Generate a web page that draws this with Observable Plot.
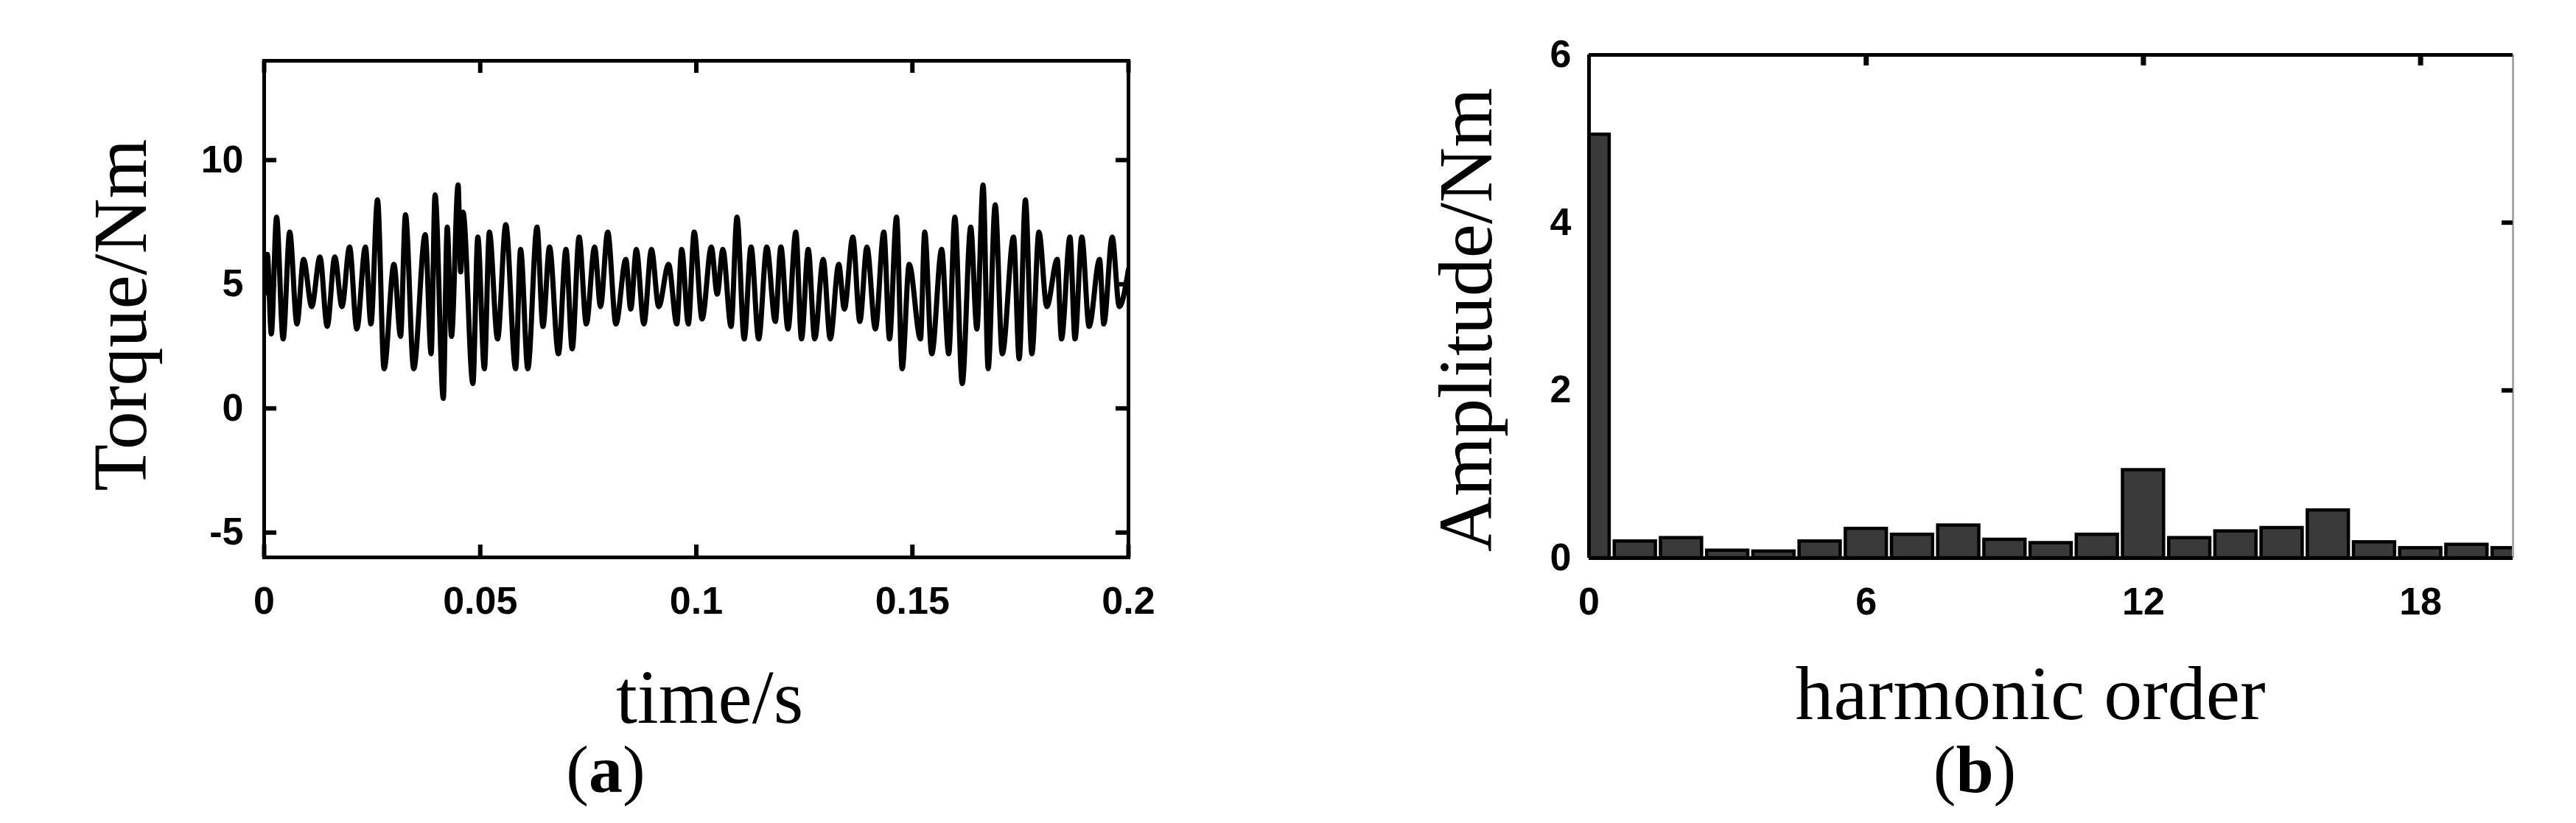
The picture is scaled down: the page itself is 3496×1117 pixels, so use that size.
<!DOCTYPE html>
<html><head><meta charset="utf-8">
<script src="https://cdn.jsdelivr.net/npm/d3@7"></script>
<script src="https://cdn.jsdelivr.net/npm/@observablehq/plot@0.6"></script>
<style>
html,body{margin:0;padding:0;background:#fff;}
#root{position:relative;width:3496px;height:1117px;overflow:hidden;background:#fff;}
.panel{position:absolute;top:0;}
.cap{position:absolute;font-family:"Liberation Serif","Times New Roman",serif;font-size:92px;line-height:1;transform:translateX(-50%);white-space:nowrap;color:#000;}
</style></head><body><div id="root"></div>
<script>
// ---- (a) torque waveform: extremum points ----
const timeS = [
0.0000,0.00074,0.00165,0.00287,0.00439,0.00591,0.00759,0.00911,0.01101,0.01291,
0.01459,0.01634,0.01801,0.01976,0.02144,0.02342,0.02471,0.02623,0.02775,0.03004,
0.03156,0.03270,0.03460,0.03727,0.03864,0.03955,0.04145,0.04236,0.04335,0.04488,
0.04548,0.04602,0.04830,0.04944,0.05096,0.05211,0.05401,0.05591,0.05819,0.05934,
0.06101,0.06314,0.06451,0.06603,0.06809,0.06984,0.07128,0.07288,0.07455,0.07646,
0.07783,0.07950,0.08140,0.08369,0.08483,0.08612,0.08787,0.08962,0.09130,0.09358,
0.09548,0.09662,0.09815,0.09951,0.10134,0.10347,0.10484,0.10614,0.10804,0.10941,
0.11109,0.11266,0.11443,0.11631,0.11827,0.11957,0.12121,0.12303,0.12434,0.12590,
0.12740,0.12936,0.13099,0.13295,0.13426,0.13621,0.13784,0.13948,0.14143,0.14339,
0.14470,0.14633,0.14763,0.14926,0.15187,0.15285,0.15448,0.15677,0.15840,0.15983,
0.16153,0.16349,0.16492,0.16636,0.16753,0.16916,0.17080,0.17341,0.17471,0.17615,
0.17765,0.17928,0.18110,0.18352,0.18450,0.18646,0.18763,0.18920,0.19089,0.19331,
0.19429,0.19624,0.19787,0.2000
];
const torqueNm = [
4.6,6.2,3.0,7.7,2.8,7.1,3.4,6.0,4.1,6.1,
3.3,6.1,4.1,6.5,3.2,6.5,3.4,8.4,1.6,5.8,
2.9,7.8,1.6,7.0,2.2,8.6,0.4,7.3,2.9,9.0,
5.5,7.9,1.0,6.9,1.6,7.1,2.8,7.4,1.6,6.4,
1.6,7.3,3.3,6.5,2.2,6.4,2.4,6.9,3.4,6.5,
4.1,7.1,3.4,6.0,4.0,6.4,3.4,6.4,4.1,5.8,
3.4,6.4,3.4,7.1,3.6,6.5,4.6,6.4,3.3,7.7,
2.8,6.5,2.8,6.5,3.5,6.5,3.2,7.1,2.8,6.4,
2.8,6.0,2.8,5.8,4.0,6.9,3.5,6.5,3.2,7.1,
2.8,7.7,1.6,5.8,2.8,7.1,2.2,6.4,2.2,7.7,
1.0,7.3,3.2,9.0,1.6,8.2,2.2,6.9,2.0,8.4,
2.2,7.1,4.1,6.0,2.8,6.9,2.8,6.9,3.3,6.0,
3.4,6.9,4.1,5.6
];
const timeTicks = [0, 0.05, 0.1, 0.15, 0.2];
const timeTickLabels = ["0", "0.05", "0.1", "0.15", "0.2"];
const torqueTicks = [-5, 0, 5, 10];
const torqueTickLabels = ["-5", "0", "5", "10"];

// ---- (b) harmonic spectrum ----
const harmonicOrder = [0,1,2,3,4,5,6,7,8,9,10,11,12,13,14,15,16,17,18,19,20];
const amplitudeNm = [5.05,0.20,0.24,0.09,0.08,0.20,0.35,0.28,0.39,0.22,0.18,0.28,1.05,0.24,0.32,0.36,0.57,0.19,0.12,0.16,0.12];
const harmonicTicks = [0, 6, 12, 18];
const harmonicTickLabels = ["0", "6", "12", "18"];
const amplitudeTicks = [0, 2, 4, 6];
const amplitudeTickLabels = ["0", "2", "4", "6"];

const tickFont = "'Liberation Sans', Arial, Helvetica, sans-serif";
const labelFont = "'Liberation Serif', 'Times New Roman', serif";
const root = document.getElementById("root");
const fmt = (ticks, labels) => d => labels[ticks.indexOf(d)];

// ---------- panel (a) ----------
const waveform = timeS.map((t, i) => ({t, v: torqueNm[i]}));
const WA = 1650;
const plotA = Plot.plot({
  width: WA, height: 1117,
  marginLeft: 358, marginRight: WA - 1531, marginTop: 82, marginBottom: 1117 - 756,
  x: {domain: [0, 0.2]},
  y: {domain: [-6, 14]},
  style: {fontFamily: tickFont, fontSize: "52px", fontWeight: "bold", background: "transparent", color: "black"},
  marks: [
    Plot.line(waveform, {x: "t", y: "v", stroke: "black", strokeWidth: 7, curve: "monotone-x", clip: true}),
    Plot.ruleY(torqueTicks, {x1: 0, x2: 0.0029, stroke: "black", strokeWidth: 6}),
    Plot.ruleY(torqueTicks, {x1: 0.2 - 0.0029, x2: 0.2, stroke: "black", strokeWidth: 6}),
    Plot.ruleX(timeTicks, {y1: -6, y2: -5.5, stroke: "black", strokeWidth: 6}),
    Plot.ruleX(timeTicks, {y1: 14, y2: 13.5, stroke: "black", strokeWidth: 6}),
    Plot.frame({stroke: "black", strokeWidth: 5}),
    Plot.axisX(timeTicks, {tickSize: 0, tickPadding: 40, tickFormat: fmt(timeTicks, timeTickLabels), label: null}),
    Plot.axisY(torqueTicks, {tickSize: 0, tickPadding: 28, tickFormat: fmt(torqueTicks, torqueTickLabels), label: null}),
    Plot.text(["Torque/Nm"], {text: d => d, frameAnchor: "left", textAnchor: "middle", dx: -194, dy: 8, rotate: -90, fontSize: 104, fontFamily: labelFont, fontWeight: "normal"}),
    Plot.text(["time/s"], {text: d => d, frameAnchor: "bottom", textAnchor: "middle", dx: 18, dy: 224, lineAnchor: "bottom", fontSize: 104, fontFamily: labelFont, fontWeight: "normal"})
  ]
});
plotA.classList.add("panel");
plotA.style.left = "0px";
root.appendChild(plotA);

// ---------- panel (b) ----------
const bars = harmonicOrder.map((n, i) => ({n, a: amplitudeNm[i]}));
const XB = 1800, WB = 1696;
const plotB = Plot.plot({
  width: WB, height: 1117,
  marginLeft: 2156 - XB, marginRight: WB - (3410 - XB), marginTop: 74, marginBottom: 1117 - 757,
  x: {domain: [0, 20]},
  y: {domain: [0, 6]},
  style: {fontFamily: tickFont, fontSize: "52px", fontWeight: "bold", background: "transparent", color: "black"},
  marks: [
    Plot.rect(bars, {x1: d => d.n - 0.445, x2: d => d.n + 0.445, y1: 0, y2: "a", fill: "#3a3a3a", stroke: "black", strokeWidth: 4.5, clip: true}),
    Plot.ruleX([20], {stroke: "#a8a8a8", strokeWidth: 3}),
    Plot.ruleX([0], {stroke: "black", strokeWidth: 5}),
    Plot.ruleY([0], {stroke: "black", strokeWidth: 5}),
    Plot.ruleY([6], {stroke: "black", strokeWidth: 5}),
    Plot.ruleX(harmonicTicks.slice(1), {y1: 6, y2: 5.87, stroke: "black", strokeWidth: 7}),
    Plot.ruleY(amplitudeTicks.slice(1, 3), {x1: 20 - 0.24, x2: 20, stroke: "black", strokeWidth: 6}),
    Plot.axisX(harmonicTicks, {tickSize: 0, tickPadding: 40, tickFormat: fmt(harmonicTicks, harmonicTickLabels), label: null}),
    Plot.axisY(amplitudeTicks, {tickSize: 0, tickPadding: 24, tickFormat: fmt(amplitudeTicks, amplitudeTickLabels), label: null}),
    Plot.text(["Amplitude/Nm"], {text: d => d, frameAnchor: "left", textAnchor: "middle", dx: -166, dy: 18, rotate: -90, fontSize: 104, fontFamily: labelFont, fontWeight: "normal"}),
    Plot.text(["harmonic order"], {text: d => d, frameAnchor: "bottom", textAnchor: "middle", dx: -28, dy: 218, lineAnchor: "bottom", fontSize: 104, fontFamily: labelFont, fontWeight: "normal"})
  ]
});
plotB.classList.add("panel");
plotB.style.left = XB + "px";
root.appendChild(plotB);

// ---------- captions ----------
function caption(letter, cx) {
  const d = document.createElement("div");
  d.className = "cap";
  d.style.left = cx + "px";
  d.style.top = "998px";
  d.append("(");
  const b = document.createElement("b");
  b.textContent = letter;
  d.append(b);
  d.append(")");
  root.appendChild(d);
}
caption("a", 822);
caption("b", 2680);
</script>
</body></html>
